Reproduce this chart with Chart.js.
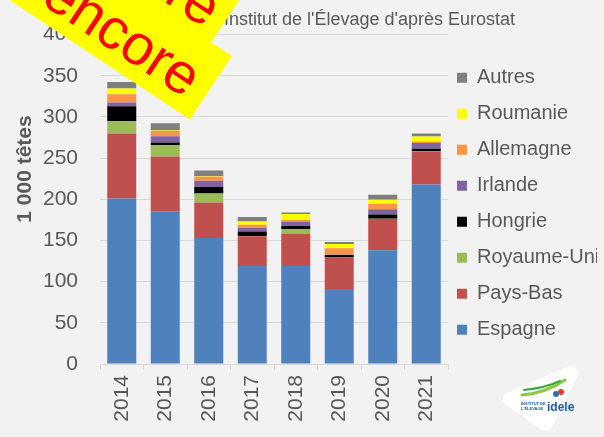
<!DOCTYPE html>
<html>
<head>
<meta charset="utf-8">
<script src="https://cdn.jsdelivr.net/npm/chart.js@4.4.1/dist/chart.umd.min.js"></script>
<style>
  html, body { margin: 0; padding: 0; background: #f2f2f2; overflow: hidden; }
  canvas { display: block; }
</style>
</head>
<body>
<canvas id="chart" width="604" height="437"></canvas>
<script>
// effectifs en 1 000 têtes
const years = ['2014', '2015', '2016', '2017', '2018', '2019', '2020', '2021'];
const espagne    = [201, 185, 153, 119, 119, 91, 138, 218];
const paysBas    = [79, 67, 43, 36, 39, 38, 38, 40];
const royaumeUni = [15, 14, 11, 0.5, 5.5, 0.3, 0.5, 0.3];
const hongrie    = [18, 3, 8, 5.5, 4, 3, 5, 3];
const irlande    = [4.5, 7.5, 7.5, 4.5, 5, 0.3, 6.5, 7];
const allemagne  = [10, 6.5, 5, 3.5, 2.5, 8, 6.5, 2];
const roumanie   = [7, 0.5, 0.5, 4, 7, 5, 5, 6];
const autres     = [8, 9, 7, 5.5, 2, 2.5, 6, 3.5];
const yTicks = [0, 50, 100, 150, 200, 250, 300, 350, 400];

const grey = '#595959';
const family = '"Liberation Sans", Arial, sans-serif';

// petit décalage de la légende pour coller à l'original
const legendNudge = {
  id: 'legendNudge',
  afterLayout(chart) {
    const lg = chart.legend;
    lg.left -= 7; lg.right -= 7;
    lg.top += 4.5; lg.bottom += 4.5;
  }
};

const decorations = {
  id: 'decorations',
  afterDraw(chart) {
    const ctx = chart.ctx;
    ctx.save();

    // source
    ctx.fillStyle = grey;
    ctx.font = '18px ' + family;
    ctx.textAlign = 'left';
    ctx.textBaseline = 'alphabetic';
    const prefix = 'Source : ';
    ctx.fillText(prefix + "Institut de l'Élevage d'après Eurostat", 224 - ctx.measureText(prefix).width, 25);

    // titre axe y
    ctx.save();
    ctx.translate(25, 169);
    ctx.rotate(-Math.PI / 2);
    ctx.font = 'bold 21px ' + family;
    ctx.textAlign = 'center';
    ctx.textBaseline = 'middle';
    ctx.fillText('1 000 têtes', 0, 0);
    ctx.restore();

    // logo idele
    ctx.save();
    ctx.fillStyle = '#ffffff';
    ctx.strokeStyle = '#ffffff';
    ctx.lineJoin = 'round';
    ctx.lineWidth = 14;
    ctx.beginPath();
    ctx.moveTo(510, 399);
    ctx.lineTo(571, 373);
    ctx.lineTo(546, 424);
    ctx.closePath();
    ctx.fill();
    ctx.stroke();
    ctx.lineCap = 'round';
    ctx.lineWidth = 3;
    ctx.strokeStyle = '#8dc63f';
    ctx.beginPath();
    ctx.moveTo(522, 395);
    ctx.quadraticCurveTo(546, 393, 565, 380);
    ctx.stroke();
    ctx.lineWidth = 2;
    ctx.strokeStyle = '#3aa935';
    ctx.beginPath();
    ctx.moveTo(524, 390);
    ctx.quadraticCurveTo(545, 388, 560, 381);
    ctx.stroke();
    ctx.fillStyle = '#2a6ebb';
    ctx.beginPath();
    ctx.arc(556, 394, 3, 0, Math.PI * 2);
    ctx.fill();
    ctx.fillStyle = '#e63b2e';
    ctx.beginPath();
    ctx.arc(561, 392, 3, 0, Math.PI * 2);
    ctx.fill();
    ctx.fillStyle = '#1b5faa';
    ctx.font = 'bold 12px ' + family;
    ctx.fillText('idele', 547, 411);
    ctx.font = 'bold 4px ' + family;
    ctx.fillText('INSTITUT DE', 521, 405);
    ctx.fillText("L'ÉLEVAGE", 521, 410);
    ctx.restore();

    // bandeau jaune
    ctx.save();
    ctx.translate(190, 119.5);
    ctx.rotate(33.5 * Math.PI / 180);
    ctx.fillStyle = '#ffff00';
    ctx.fillRect(-420, -76, 420, 76);
    ctx.fillRect(-440, -165, 415, 90);
    ctx.fillStyle = '#ff0000';
    ctx.font = '57px ' + family;
    ctx.textAlign = 'right';
    ctx.textBaseline = 'alphabetic';
    ctx.fillText('encore', -16, -14.5);
    ctx.fillText('Provisoire', -38, -84);
    ctx.restore();

    ctx.restore();
  }
};

new Chart(document.getElementById('chart'), {
  type: 'bar',
  data: {
    labels: years,
    datasets: [
      { label: 'Espagne', data: espagne, backgroundColor: '#4f81bd' },
      { label: 'Pays-Bas', data: paysBas, backgroundColor: '#c0504d' },
      { label: 'Royaume-Uni', data: royaumeUni, backgroundColor: '#9bbb59' },
      { label: 'Hongrie', data: hongrie, backgroundColor: '#000000' },
      { label: 'Irlande', data: irlande, backgroundColor: '#8064a2' },
      { label: 'Allemagne', data: allemagne, backgroundColor: '#f79646' },
      { label: 'Roumanie', data: roumanie, backgroundColor: '#ffff00' },
      { label: 'Autres', data: autres, backgroundColor: '#7f7f7f' }
    ]
  },
  options: {
    responsive: false,
    animation: false,
    layout: { padding: { top: 33 } },
    datasets: { bar: { barPercentage: 0.667, categoryPercentage: 1 } },
    scales: {
      x: {
        stacked: true,
        grid: { drawOnChartArea: false, color: '#d9d9d9', tickLength: 6 },
        border: { color: '#d9d9d9' },
        ticks: { color: grey, font: { family: family, size: 21 }, minRotation: 90, maxRotation: 90, padding: 5 },
        afterFit: s => { s.height = 73; }
      },
      y: {
        stacked: true,
        min: 0,
        max: 400,
        afterBuildTicks: s => { s.ticks = yTicks.map(v => ({ value: v })); },
        ticks: { color: grey, font: { family: family, size: 21 }, padding: 22 },
        grid: { color: '#d9d9d9', drawTicks: false },
        border: { display: false },
        afterFit: s => { s.width = 100; }
      }
    },
    plugins: {
      legend: {
        position: 'right',
        fullSize: false,
        maxWidth: 156,
        reverse: true,
        labels: { boxWidth: 10, boxHeight: 10, padding: 16, color: grey, font: { family: family, size: 20 } }
      },
      tooltip: { enabled: false }
    }
  },
  plugins: [legendNudge, decorations]
});
</script>
</body>
</html>
